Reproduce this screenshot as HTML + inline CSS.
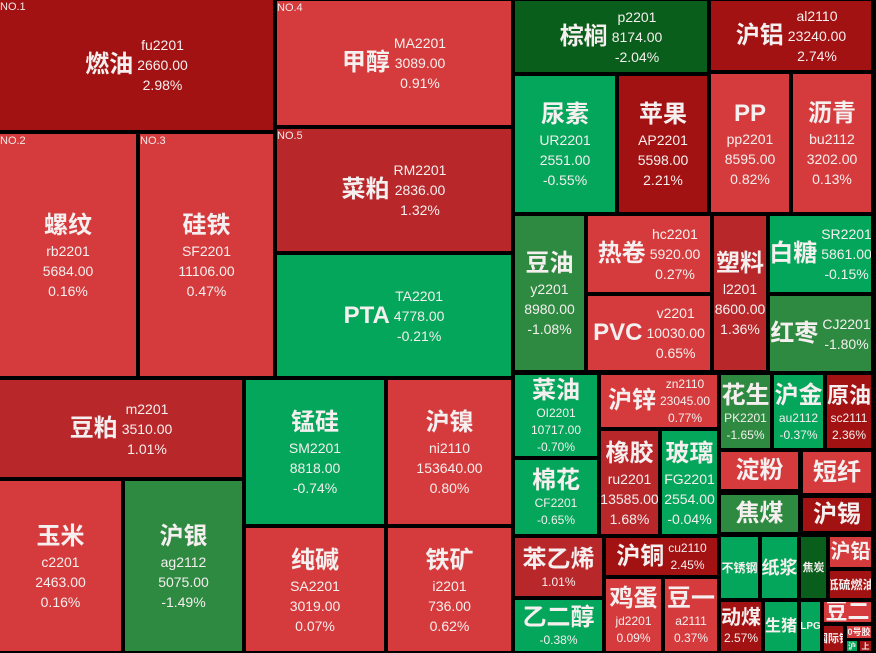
<!DOCTYPE html>
<html>
<head>
<meta charset="utf-8">
<style>
html,body{margin:0;padding:0;}
body{background:#000;width:876px;height:653px;overflow:hidden;position:relative;}
.t{position:absolute;overflow:hidden;display:flex;align-items:center;justify-content:center;color:#f6efef;font-family:"Liberation Sans","Noto Sans CJK SC",sans-serif;box-sizing:border-box;}
.s{flex-direction:column;padding-top:2px;}
.n{font-weight:bold;font-size:24px;line-height:30px;white-space:nowrap;flex:none;}
.l{font-size:14px;line-height:20px;text-align:center;white-space:nowrap;flex:none;}
.t:not(.s) .l{margin-left:4px;}
.sm .n{line-height:28px;}
.sm .l{font-size:12px;line-height:17px;}
.no{position:absolute;left:0;top:1px;font-size:11px;line-height:12px;color:#f3e8e8;font-family:"Liberation Sans",sans-serif;}
.dr{background:#a31212;}
.mr{background:#b8272a;}
.lr{background:#d53b3c;}
.bg{background:#03a65a;}
.mg{background:#2e8a41;}
.dg{background:#0a5e1b;}
</style>
</head>
<body>

<!-- left big block -->
<div class="t dr" style="left:0;top:0;width:273px;height:130px;"><div class="no">NO.1</div><div class="n">燃油</div><div class="l">fu2201<br>2660.00<br>2.98%</div></div>
<div class="t lr" style="left:277px;top:1px;width:234px;height:124px;"><div class="no">NO.4</div><div class="n">甲醇</div><div class="l">MA2201<br>3089.00<br>0.91%</div></div>
<div class="t mr" style="left:277px;top:129px;width:234px;height:122px;"><div class="no">NO.5</div><div class="n">菜粕</div><div class="l">RM2201<br>2836.00<br>1.32%</div></div>
<div class="t bg" style="left:277px;top:255px;width:234px;height:121px;"><div class="n">PTA</div><div class="l">TA2201<br>4778.00<br>-0.21%</div></div>
<div class="t s lr" style="left:0;top:134px;width:136px;height:242px;"><div class="no">NO.2</div><div class="n">螺纹</div><div class="l">rb2201<br>5684.00<br>0.16%</div></div>
<div class="t s lr" style="left:140px;top:134px;width:133px;height:242px;"><div class="no">NO.3</div><div class="n">硅铁</div><div class="l">SF2201<br>11106.00<br>0.47%</div></div>

<div class="t mr" style="left:0;top:380px;width:242px;height:97px;"><div class="n">豆粕</div><div class="l">m2201<br>3510.00<br>1.01%</div></div>
<div class="t s lr" style="left:0;top:481px;width:121px;height:170px;"><div class="n">玉米</div><div class="l">c2201<br>2463.00<br>0.16%</div></div>
<div class="t s mg" style="left:125px;top:481px;width:117px;height:170px;"><div class="n">沪银</div><div class="l">ag2112<br>5075.00<br>-1.49%</div></div>
<div class="t s bg" style="left:246px;top:380px;width:138px;height:144px;"><div class="n">锰硅</div><div class="l">SM2201<br>8818.00<br>-0.74%</div></div>
<div class="t s lr" style="left:388px;top:380px;width:123px;height:144px;"><div class="n">沪镍</div><div class="l">ni2110<br>153640.00<br>0.80%</div></div>
<div class="t s lr" style="left:246px;top:528px;width:138px;height:123px;"><div class="n">纯碱</div><div class="l">SA2201<br>3019.00<br>0.07%</div></div>
<div class="t s lr" style="left:388px;top:528px;width:123px;height:123px;"><div class="n">铁矿</div><div class="l">i2201<br>736.00<br>0.62%</div></div>

<!-- right section -->
<div class="t dg" style="left:515px;top:1px;width:192px;height:71px;"><div class="n">棕榈</div><div class="l">p2201<br>8174.00<br>-2.04%</div></div>
<div class="t dr" style="left:711px;top:1px;width:160px;height:69px;"><div class="n">沪铝</div><div class="l">al2110<br>23240.00<br>2.74%</div></div>
<div class="t s bg" style="left:515px;top:76px;width:100px;height:136px;"><div class="n">尿素</div><div class="l">UR2201<br>2551.00<br>-0.55%</div></div>
<div class="t s dr" style="left:619px;top:76px;width:88px;height:136px;"><div class="n">苹果</div><div class="l">AP2201<br>5598.00<br>2.21%</div></div>
<div class="t s lr" style="left:711px;top:74px;width:78px;height:138px;"><div class="n">PP</div><div class="l">pp2201<br>8595.00<br>0.82%</div></div>
<div class="t s lr" style="left:793px;top:74px;width:78px;height:138px;"><div class="n">沥青</div><div class="l">bu2112<br>3202.00<br>0.13%</div></div>

<div class="t s mg" style="left:515px;top:216px;width:69px;height:154px;"><div class="n">豆油</div><div class="l">y2201<br>8980.00<br>-1.08%</div></div>
<div class="t lr" style="left:588px;top:216px;width:122px;height:76px;"><div class="n">热卷</div><div class="l">hc2201<br>5920.00<br>0.27%</div></div>
<div class="t lr" style="left:588px;top:296px;width:122px;height:74px;"><div class="n">PVC</div><div class="l">v2201<br>10030.00<br>0.65%</div></div>
<div class="t s mr" style="left:714px;top:216px;width:52px;height:154px;"><div class="n">塑料</div><div class="l">l2201<br>8600.00<br>1.36%</div></div>
<div class="t bg" style="left:770px;top:216px;width:101px;height:76px;"><div class="n">白糖</div><div class="l">SR2201<br>5861.00<br>-0.15%</div></div>
<div class="t mg" style="left:770px;top:296px;width:101px;height:75px;"><div class="n">红枣</div><div class="l">CJ2201<br>-1.80%</div></div>

<div class="t s sm bg" style="left:515px;top:375px;width:82px;height:81px;"><div class="n">菜油</div><div class="l">OI2201<br>10717.00<br>-0.70%</div></div>
<div class="t sm lr" style="left:601px;top:375px;width:116px;height:52px;"><div class="n">沪锌</div><div class="l">zn2110<br>23045.00<br>0.77%</div></div>
<div class="t s sm bg" style="left:515px;top:460px;width:82px;height:74px;"><div class="n">棉花</div><div class="l">CF2201<br>-0.65%</div></div>
<div class="t s mr" style="left:601px;top:431px;width:57px;height:103px;"><div class="n">橡胶</div><div class="l">ru2201<br>13585.00<br>1.68%</div></div>
<div class="t s bg" style="left:662px;top:431px;width:55px;height:103px;"><div class="n">玻璃</div><div class="l">FG2201<br>2554.00<br>-0.04%</div></div>
<div class="t s sm mr" style="left:515px;top:538px;width:87px;height:58px;"><div class="n">苯乙烯</div><div class="l">1.01%</div></div>
<div class="t s sm bg" style="left:515px;top:600px;width:87px;height:51px;"><div class="n">乙二醇</div><div class="l">-0.38%</div></div>
<div class="t sm dr" style="left:606px;top:538px;width:111px;height:37px;"><div class="n">沪铜</div><div class="l">cu2110<br>2.45%</div></div>
<div class="t s sm lr" style="left:606px;top:579px;width:55px;height:72px;"><div class="n">鸡蛋</div><div class="l">jd2201<br>0.09%</div></div>
<div class="t s sm lr" style="left:665px;top:579px;width:52px;height:72px;"><div class="n">豆一</div><div class="l">a2111<br>0.37%</div></div>

<div class="t s sm mg" style="left:721px;top:375px;width:49px;height:73px;"><div class="n">花生</div><div class="l">PK2201<br>-1.65%</div></div>
<div class="t s sm bg" style="left:774px;top:375px;width:49px;height:73px;"><div class="n">沪金</div><div class="l">au2112<br>-0.37%</div></div>
<div class="t s sm dr" style="left:827px;top:375px;width:44px;height:73px;"><div class="n" style="font-size:22px;">原油</div><div class="l">sc2111<br>2.36%</div></div>
<div class="t lr" style="left:721px;top:452px;width:77px;height:37px;"><div class="n">淀粉</div></div>
<div class="t lr" style="left:803px;top:452px;width:68px;height:41px;"><div class="n">短纤</div></div>
<div class="t mg" style="left:721px;top:495px;width:77px;height:37px;"><div class="n">焦煤</div></div>
<div class="t dr" style="left:803px;top:498px;width:68px;height:33px;"><div class="n">沪锡</div></div>

<div class="t bg" style="left:721px;top:537px;width:37px;height:61px;"><div class="n" style="font-size:12px;line-height:16px;">不锈钢</div></div>
<div class="t bg" style="left:762px;top:537px;width:35px;height:61px;"><div class="n" style="font-size:18px;line-height:22px;">纸浆</div></div>
<div class="t dg" style="left:801px;top:537px;width:25px;height:61px;"><div class="n" style="font-size:11px;line-height:14px;">焦炭</div></div>
<div class="t lr" style="left:830px;top:537px;width:41px;height:30px;"><div class="n" style="font-size:20px;line-height:24px;">沪铅</div></div>
<div class="t dr" style="left:830px;top:571px;width:41px;height:27px;"><div class="n" style="font-size:12px;line-height:16px;">低硫燃油</div></div>
<div class="t s dr" style="left:721px;top:602px;width:40px;height:49px;padding-top:0;"><div class="n" style="font-size:20px;line-height:24px;">动煤</div><div class="l" style="font-size:12px;line-height:17px;">2.57%</div></div>
<div class="t bg" style="left:765px;top:602px;width:32px;height:49px;"><div class="n" style="font-size:16px;line-height:20px;">生猪</div></div>
<div class="t bg" style="left:801px;top:602px;width:19px;height:49px;"><div class="n" style="font-size:10px;line-height:12px;">LPG</div></div>
<div class="t lr" style="left:824px;top:602px;width:47px;height:20px;"><div class="n" style="font-size:22px;line-height:24px;">豆二</div></div>
<div class="t dr" style="left:824px;top:626px;width:19px;height:25px;"><div class="n" style="font-size:11px;line-height:14px;">国际铜</div></div>
<div class="t lr" style="left:847px;top:626px;width:24px;height:12px;"><div class="n" style="font-size:9px;line-height:10px;">0号胶</div></div>
<div class="t bg" style="left:847px;top:641px;width:10px;height:10px;"><div class="n" style="font-size:8px;line-height:9px;">沪</div></div>
<div class="t dr" style="left:860px;top:641px;width:11px;height:10px;"><div class="n" style="font-size:8px;line-height:9px;">上</div></div>

</body>
</html>
